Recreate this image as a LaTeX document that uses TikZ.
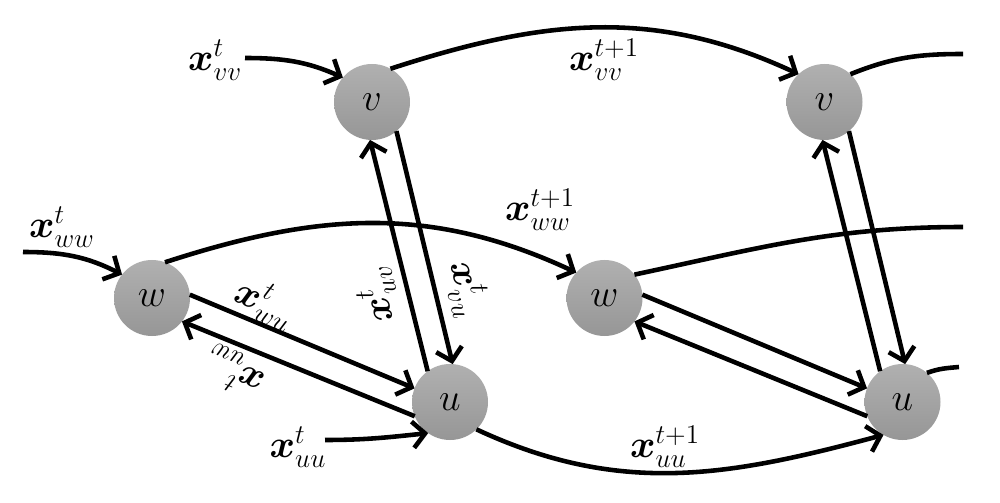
\documentclass[tikz,border=0pt]{standalone}
\usepackage{fix-cm}
\usepackage{amsmath}
\usetikzlibrary{arrows.meta}

\newcommand{\xflow}[2]{$\boldsymbol{x}^{#1}_{#2}$}

\begin{document}
\begin{tikzpicture}[line width=2.6pt,>={Straight Barb[length=7pt,width=15pt]},font=\fontsize{22}{26}\selectfont]

    % let's define some key values
    \def\gap{9.05}
    \def\xv{7.44}
    \def\yv{8.0}
    \def\xw{3.04}
    \def\yw{4.08}
    \def\xu{9.0}
    \def\yu{2.0}
    \def\xend{19.26}

    % Styles
    \tikzstyle{state}=[circle, minimum size=1.52cm, inner sep=0pt, outer sep=0pt, top color=gray!62, bottom color=gray!82, draw=none]
    \tikzstyle{flow}=[->]

    \useasboundingbox (0,0) rectangle (20,10.04);

    % states at time t
    \node[state] (v1) at (\xv,\yv) {$v$};
    \node[state] (w1) at (\xw,\yw) {$w$};
    \node[state] (u1) at (\xu,\yu) {$u$};

    % states at time t+1
    \node[state] (v2) at (\xv + \gap,\yv) {$v$};
    \node[state] (w2) at (\xw + \gap,\yw) {$w$};
    \node[state] (u2) at (\xu + \gap,\yu) {$u$};

    % loose ends
    \coordinate (vin) at (4.9,8.88);
    \coordinate (win) at (0.46,5.0);
    \coordinate (uin) at (6.5,1.24);
    \coordinate (vout) at (\xend,8.96);
    \coordinate (wout) at (\xend,5.5);
    \coordinate (uout) at (19.18,2.7);

    % incoming flows
    \draw[flow] (vin) to[out=0,in=156] (v1.140);
    \draw[flow] (win) to[out=0,in=153] (w1.142);
    \draw[flow] (uin) to[out=0,in=186] (u1.235);

    % flows to the next step
    \draw[flow] (v1.61) to[out=18,in=155] (v2.133);
    \draw[flow] (w1.70) to[out=18,in=155] (w2.138);
    \draw[flow] (u1.-46) to[out=-25,in=195] (u2.-120);

    % flows leaving the picture
    \draw (v2.47) to[out=22,in=180] (vout);
    \draw (w2.38) to[out=12,in=180] (wout);
    \draw (u2.50) to[out=20,in=185] (uout);

    % exchanges at time t
    \draw[flow] (w1.5) -- (u1.159);
    \draw[flow] (u1.202) -- (w1.-38);
    \draw[flow] (v1.-50) -- (u1.86);
    \draw[flow] (u1.126) -- (v1.-93);

    % exchanges at time t+1
    \draw[flow] (w2.5) -- (u2.159);
    \draw[flow] (u2.202) -- (w2.-38);
    \draw[flow] (v2.-50) -- (u2.86);
    \draw[flow] (u2.126) -- (v2.-93);

    % labels
    \node (lvv) at (4.3,8.84) {\xflow{t}{vv}};
    \node (lvvn) at (12.08,8.84) {\xflow{t+1}{vv}};
    \node (lww) at (1.24,5.5) {\xflow{t}{ww}};
    \node (lwwn) at (10.8,5.84) {\xflow{t+1}{ww}};
    \node (luu) at (5.96,1.1) {\xflow{t}{uu}};
    \node (luun) at (13.3,1.1) {\xflow{t+1}{uu}};
    \node[rotate=-23] (lwu) at (5.3,3.98) {\xflow{t}{wu}};
    \node[rotate=157] (luw) at (4.68,2.6) {\xflow{t}{uw}};
    \node[rotate=104] (luv) at (7.54,4.14) {\xflow{t}{uv}};
    \node[rotate=-76] (lvu) at (9.34,4.26) {\xflow{t}{vu}};

\end{tikzpicture}
\end{document}
